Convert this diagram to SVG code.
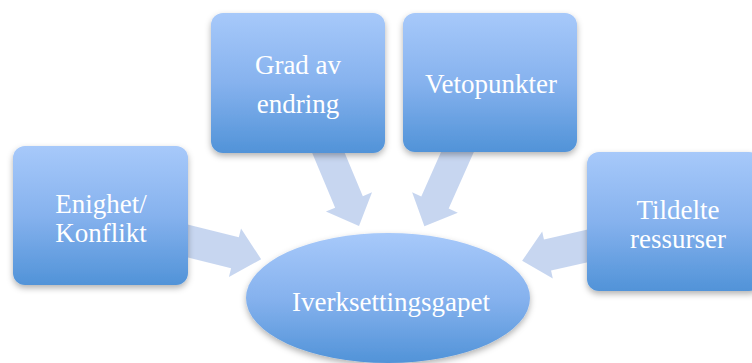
<svg xmlns="http://www.w3.org/2000/svg" width="752" height="363" viewBox="0 0 752 363">
<style>
.box{fill:url(#g);filter:url(#sh)}
.arr{fill:#c4d4ef;opacity:0.95}
text{font-family:"Liberation Serif","Times New Roman",serif;fill:#ffffff;text-anchor:middle;font-size:27px}
</style>
<defs>
<linearGradient id="g" x1="0" y1="0" x2="0" y2="1">
<stop offset="0" stop-color="#a7c9fa"/>
<stop offset="0.5" stop-color="#86b2ee"/>
<stop offset="1" stop-color="#5193d8"/>
</linearGradient>
<filter id="sh" x="-10%" y="-10%" width="120%" height="130%">
<feDropShadow dx="0" dy="3" stdDeviation="3" flood-color="#000" flood-opacity="0.3"/>
</filter>
</defs>
<rect width="752" height="363" fill="#ffffff"/>
<g id="connectors">
<polygon class="arr" transform="translate(168.6,236.2) rotate(14)" points="0,-16 68.4,-16 68.4,-25 95.4,0 68.4,25 68.4,16 0,16"/>
<polygon class="arr" transform="translate(320.8,134.6) rotate(67.3)" points="0,-15 73,-15 73,-25 99,0 73,25 73,15 0,15"/>
<polygon class="arr" transform="translate(465.6,133.7) rotate(114)" points="0,-15 75.3,-15 75.3,-25 101.3,0 75.3,25 75.3,15 0,15"/>
<polygon class="arr" transform="translate(606.5,241.6) rotate(167.2)" points="0,-16 60.5,-16 60.5,-24 86.5,0 60.5,24 60.5,16 0,16"/>
</g>
<g id="enighet">
<rect class="box" x="13" y="146" width="175" height="139" rx="12"/>
<text x="101" y="213">Enighet/</text>
<text x="101" y="242">Konflikt</text>
</g>
<g id="grad">
<rect class="box" x="211" y="13" width="174" height="140" rx="12"/>
<text x="298" y="74">Grad av</text>
<text x="298" y="113">endring</text>
</g>
<g id="veto">
<rect class="box" x="403" y="13" width="174" height="139" rx="12"/>
<text x="491" y="93">Vetopunkter</text>
</g>
<g id="tildelte">
<rect class="box" x="587" y="152" width="174" height="139" rx="12"/>
<text x="678" y="219">Tildelte</text>
<text x="678" y="248">ressurser</text>
</g>
<g id="gapet">
<ellipse class="box" cx="388" cy="298" rx="142" ry="65"/>
<text x="391" y="311" font-size="27.5">Iverksettingsgapet</text>
</g>
</svg>
